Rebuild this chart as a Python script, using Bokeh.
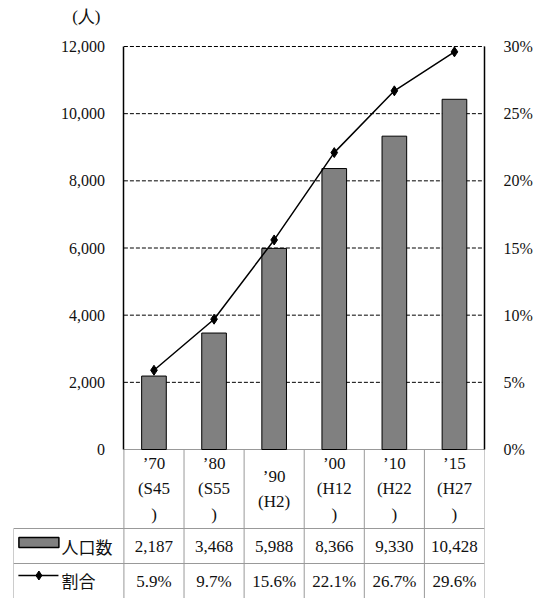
from bokeh.plotting import figure
from bokeh.models import (Range1d, LinearAxis, FixedTicker, NumeralTickFormatter,
                          PrintfTickFormatter, ColumnDataSource)
from bokeh.core.properties import value
from bokeh.embed import file_html
from bokeh.resources import INLINE
import numpy as np

# ---- data ----
categories = ["’70", "’80", "’90", "’00", "’10", "’15"]
eras = ["(S45)", "(S55)", "(H2)", "(H12)", "(H22)", "(H27)"]
population = [2187, 3468, 5988, 8366, 9330, 10428]
ratio = [5.9, 9.7, 15.6, 22.1, 26.7, 29.6]
left_ticks = [0, 2000, 4000, 6000, 8000, 10000, 12000]
right_ticks = [0, 5, 10, 15, 20, 25, 30]
series_names = ["人口数", "割合"]
unit_label = "(人)"

SERIF = "Liberation Serif"
JP = "Noto Sans CJK JP"
TXT = "#111111"
GRAY = "#999999"

# ---- layout constants (pixels) ----
CW = 61.5            # width of one category column
LEFT_COL = 113       # width of the table's legend column
PLOT_PX = 403        # height of the chart area
TABLE_PX = 149       # visible height of the table
TOP_PAD = 46         # room above the top tick inside the frame
YMAX, PMAX = 12000, 30
LC = LEFT_COL / CW
n = len(categories)

p = figure(width=535, height=598,
           x_range=Range1d(-LC, n),
           y_range=Range1d(-YMAX * TABLE_PX / PLOT_PX, YMAX * (1 + TOP_PAD / PLOT_PX)),
           output_backend="svg", toolbar_location=None,
           x_axis_location=None, y_axis_location=None,
           min_border_left=13, min_border_right=40, min_border_top=0,
           min_border_bottom=0)
p.outline_line_color = None
p.xgrid.visible = False
p.ygrid.visible = False
p.extra_y_ranges = {"pct": Range1d(-PMAX * TABLE_PX / PLOT_PX, PMAX * (1 + TOP_PAD / PLOT_PX))}

la = LinearAxis(ticker=FixedTicker(ticks=left_ticks), formatter=NumeralTickFormatter(format="0,0"),
                bounds=(0, YMAX), fixed_location=0)
ra = LinearAxis(y_range_name="pct", ticker=FixedTicker(ticks=right_ticks),
                formatter=PrintfTickFormatter(format="%d%%"), bounds=(0, PMAX))
p.add_layout(la, "left")
p.add_layout(ra, "right")
for ax in (la, ra):
    ax.axis_line_color = "black"
    ax.axis_line_width = 1.5
    ax.major_tick_line_color = None
    ax.minor_tick_line_color = None
    ax.major_label_text_font = SERIF
    ax.major_label_text_font_size = "16px"
    ax.major_label_text_color = TXT
    ax.major_label_standoff = 13

# dashed grid lines across the chart columns only
gy = left_ticks[1:]
p.segment(x0=[0] * len(gy), y0=gy, x1=[n] * len(gy), y1=gy,
          line_color="black", line_width=1, line_dash="4 2")

def px2x(px):
    return (px - 126) / CW

# unit label above the left axis
p.text(x=[px2x(73)], y=[YMAX * (1 + 30 / PLOT_PX)], text=[unit_label],
       text_align="left", text_baseline="middle",
       text_font=value(SERIF), text_font_size="17px", text_color=TXT)

# ---- table grid ----
def ty(px):
    return -px * YMAX / PLOT_PX

H1, H2, BOT = 79, 114, 170
xs = list(np.arange(n + 1))
p.segment(x0=xs, y0=[ty(0)] * (n + 1), x1=xs, y1=[ty(BOT)] * (n + 1), line_color=GRAY, line_width=1)
p.segment(x0=[-LC], y0=[ty(H1)], x1=[-LC], y1=[ty(BOT)], line_color=GRAY, line_width=1)
p.segment(x0=[0, -LC, -LC], y0=[ty(0), ty(H1), ty(H2)], x1=[n, n, n], y1=[ty(0), ty(H1), ty(H2)],
          line_color=GRAY, line_width=1)

# ---- chart marks ----
cx = np.arange(n) + 0.5
src = ColumnDataSource(dict(x=cx, pop=population, pct=ratio))
p.vbar(x="x", top="pop", width=0.41, source=src, fill_color="#808080",
       line_color="black", line_width=1)
p.line(x="x", y="pct", source=src, y_range_name="pct", line_color="black", line_width=1.5)
p.scatter(x="x", y="pct", source=src, y_range_name="pct", marker="diamond",
          size=10, fill_color="black", line_color="black")

# ---- table texts ----
header = []
for c, e in zip(categories, eras):
    header.append(c + "\n" + (e if len(e) <= 4 else e[:-1] + "\n)"))
p.text(x=cx, y=[ty(H1 / 2)] * n, text=header, text_align="center", text_baseline="middle",
       text_font=value(SERIF), text_font_size="17px", text_line_height=1.35, text_color=TXT)
p.text(x=cx, y=[ty((H1 + H2) / 2)] * n, text=[f"{v:,}" for v in population],
       text_align="center", text_baseline="middle",
       text_font=value(SERIF), text_font_size="17px", text_color=TXT)
p.text(x=cx, y=[ty(H2 + 17.5)] * n, text=[f"{v:.1f}%" for v in ratio],
       text_align="center", text_baseline="middle",
       text_font=value(SERIF), text_font_size="17px", text_color=TXT)

# legend keys in the table's first column
p.rect(x=[px2x(39)], y=[ty(H1 + 14)], width=40, height=10, width_units="screen",
       height_units="screen", fill_color="#808080", line_color="black", line_width=1.5)
p.segment(x0=[px2x(18)], y0=[ty(H2 + 12)], x1=[px2x(59)], y1=[ty(H2 + 12)],
          line_color="black", line_width=1.5)
p.scatter(x=[px2x(39)], y=[ty(H2 + 12)], marker="diamond", size=9,
          fill_color="black", line_color="black")
p.text(x=[px2x(62)] * 2, y=[ty((H1 + H2) / 2), ty(H2 + 17)], text=series_names,
       text_align="left", text_baseline="middle",
       text_font=value(JP), text_font_size="17px", text_color=TXT)

open("out.html", "w").write(file_html(p, INLINE))
